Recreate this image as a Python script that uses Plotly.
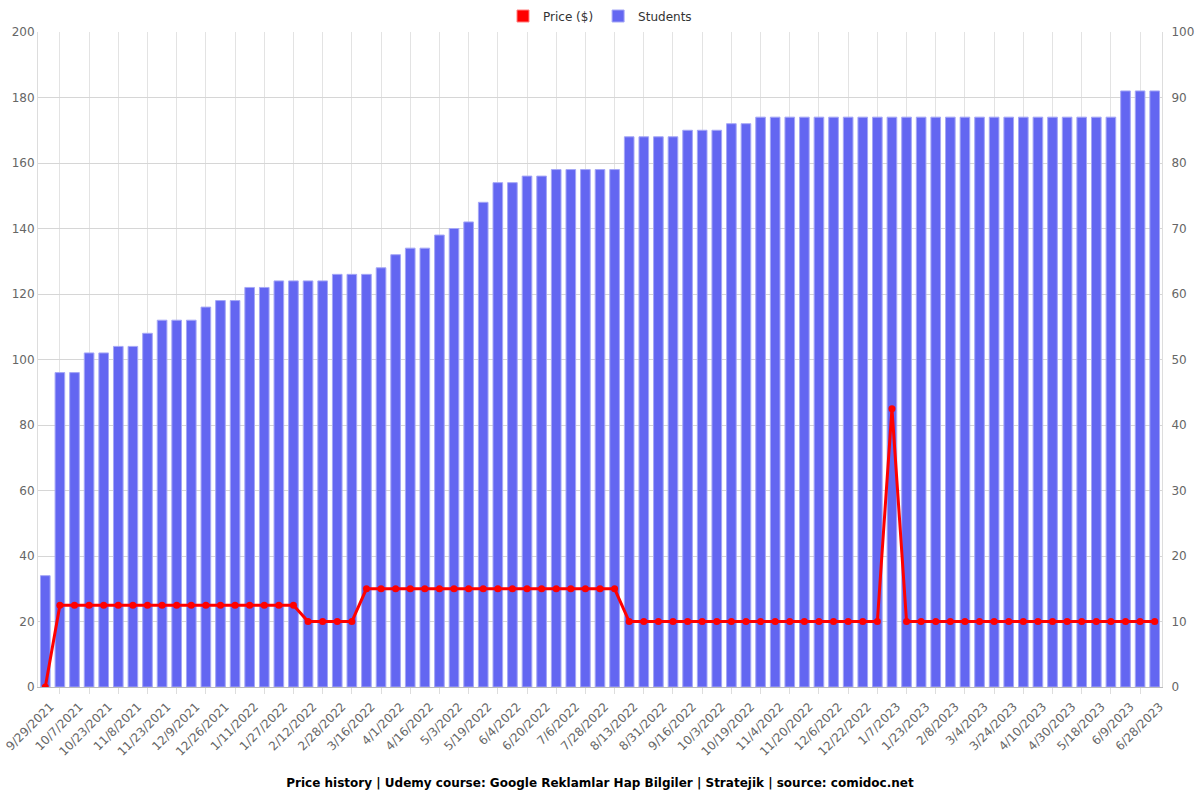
import plotly.graph_objects as go

tick_labels = ["9/29/2021", "10/7/2021", "10/23/2021", "11/8/2021", "11/23/2021", "12/9/2021",
               "12/26/2021", "1/11/2022", "1/27/2022", "2/12/2022", "2/28/2022", "3/16/2022",
               "4/1/2022", "4/16/2022", "5/3/2022", "5/19/2022", "6/4/2022", "6/20/2022",
               "7/6/2022", "7/28/2022", "8/13/2022", "8/31/2022", "9/16/2022", "10/3/2022",
               "10/19/2022", "11/4/2022", "11/20/2022", "12/6/2022", "12/22/2022", "1/7/2023",
               "1/23/2023", "2/8/2023", "3/4/2023", "3/24/2023", "4/10/2023", "4/30/2023",
               "5/18/2023", "6/9/2023", "6/28/2023"]

students = [17, 48, 48, 51, 51, 52, 52, 54, 56, 56, 56, 58, 59, 59, 61, 61, 62, 62, 62, 62,
            63, 63, 63, 64, 66, 67, 67, 69, 70, 71, 74, 77, 77, 78, 78, 79, 79, 79, 79, 79,
            84, 84, 84, 84, 85, 85, 85, 86, 86, 87, 87, 87, 87, 87, 87, 87, 87, 87, 87, 87,
            87, 87, 87, 87, 87, 87, 87, 87, 87, 87, 87, 87, 87, 87, 91, 91, 91]

price = [0] + [24.99] * 17 + [19.99] * 4 + [29.99] * 18 + [19.99] * 18 + [84.99] + [19.99] * 18

x = list(range(len(students)))
label_pos = x[::2]

fig = go.Figure()
fig.add_trace(go.Bar(x=x, y=students, name="Students", yaxis="y",
                     marker=dict(color="#6366f1", line=dict(color="#a5a7f6", width=1)),
                     showlegend=False))
fig.add_trace(go.Scatter(x=x, y=price, name="Price ($)", yaxis="y2", mode="lines+markers",
                         line=dict(color="#ff0000", width=3),
                         marker=dict(color="#ff0000", size=7), showlegend=False))
# legend entries
fig.add_trace(go.Bar(x=[None], y=[None], name="Price ($)",
                     marker=dict(color="#ff0000", line=dict(color="#ff8080", width=1)), yaxis="y"))
fig.add_trace(go.Bar(x=[None], y=[None], name="Students",
                     marker=dict(color="#6366f1", line=dict(color="#a5a7f6", width=1)), yaxis="y"))

fig.update_layout(
    width=1200, height=800,
    margin=dict(l=38, r=38, t=32, b=113, autoexpand=False),
    paper_bgcolor="white", plot_bgcolor="white",
    font=dict(family="DejaVu Sans", size=12, color="#666"),
    bargap=0.34,
    showlegend=True,
    legend=dict(orientation="h", x=0.5, xanchor="center", y=1 - 16 / 800, yanchor="middle",
                yref="container", font=dict(size=12, color="#333"),
                traceorder="normal", itemwidth=30),
    title=dict(text="<b>Price history | Udemy course: Google Reklamlar Hap Bilgiler | Stratejik | source: comidoc.net</b>",
               x=0.5, xanchor="center", y=1 - 783 / 800, yanchor="middle", yref="container",
               font=dict(size=12, color="#000", family="DejaVu Sans")),
    xaxis=dict(range=[-0.5, len(students) - 0.5], tickmode="array", tickvals=label_pos,
               ticktext=tick_labels, tickangle=-45, showgrid=False, ticks="",
               showline=True, linecolor="#bbb", zeroline=False, automargin=False,
               ticklabeloverflow="allow", ticklabelstandoff=7, ticklabelshift=5,
               tickfont=dict(size=12, color="#666"),
               minor=dict(tick0=1, dtick=2, showgrid=True, gridcolor="#e3e3e3",
                          ticks="outside", ticklen=6, tickcolor="#ddd")),
    yaxis=dict(side="right", range=[0, 100], dtick=10, showgrid=True, gridcolor="#d6d6d6",
               zeroline=False, showline=True, linecolor="#ddd", ticks="", ticklabelstandoff=6,
               automargin=False, tickfont=dict(size=12, color="#666")),
    yaxis2=dict(side="left", overlaying="y", range=[0, 200], dtick=20, showgrid=True,
                gridcolor="#d6d6d6", zeroline=False, showline=True, linecolor="#ddd",
                automargin=False, tickfont=dict(size=12, color="#666")),
)

fig.write_html("out.html")
